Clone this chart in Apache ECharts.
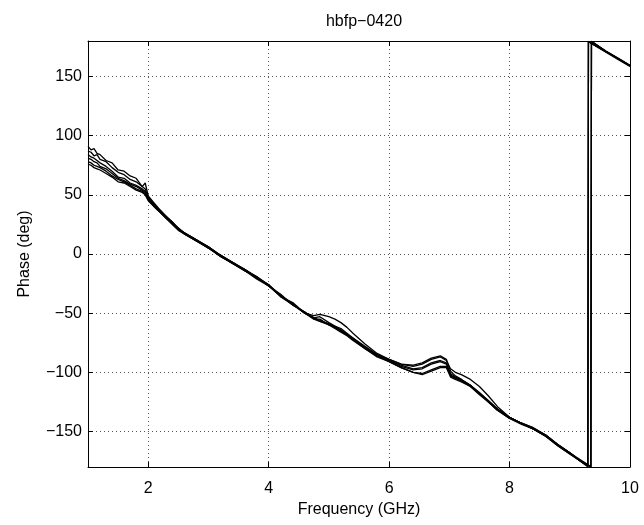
<!DOCTYPE html>
<html>
<head>
<meta charset="utf-8">
<script src="https://cdn.jsdelivr.net/npm/echarts@6/dist/echarts.min.js"></script>
<style>
  html, body { margin: 0; padding: 0; background: #fff; }
  #chart { width: 644px; height: 525px; }
</style>
</head>
<body>
<div id="chart"></div>
<script>
// frequency points (GHz), shared by all traces
const freq = [1.0, 1.05, 1.1, 1.15, 1.2, 1.3, 1.4, 1.5, 1.6, 1.7,
  1.8, 1.9, 1.95, 2.0, 2.1, 2.2, 2.3, 2.4, 2.5, 2.6,
  2.8, 3.0, 3.2, 3.4, 3.6, 3.8, 4.0, 4.2, 4.4, 4.6,
  4.75, 4.85, 5.0, 5.1, 5.2, 5.3, 5.4, 5.6, 5.8, 6.0,
  6.2, 6.4, 6.55, 6.7, 6.85, 6.95, 7.02, 7.1, 7.2, 7.35,
  7.5, 7.65, 7.8, 8.0, 8.2, 8.4, 8.6, 8.8, 9.0, 9.15,
  9.30, 9.31, 9.35, 9.36, 9.6, 9.8, 10.0]

// phase traces (deg)
const phase1 = [91, 88, 89, 85, 84, 79, 77, 71, 70, 66,
  64, 57, 60, 49, 43, 37, 32, 27, 22, 18,
  12, 6, -1, -7, -13, -19, -27, -34, -43, -49,
  -54, -53, -58, -61, -63, -67, -71, -78, -85, -89,
  -93, -94, -92, -88, -86, -89, -99, -103, -106, -111,
  -117, -124, -131, -138, -143, -147, -153, -161, -168, -174,
  -179.5, 179.6, 178.3, 178, 171, 165, 159]
const phase2 = [87, 86, 83, 84, 80, 78, 73, 69, 67, 63,
  61, 57, 55, 48, 42, 36, 31, 27, 21, 18,
  12, 5, -1, -7, -13, -20, -26, -35, -42, -50,
  -52, -51, -53, -55, -58, -62, -67, -76, -84, -89,
  -93, -95, -93, -89, -87, -90, -97, -100, -102, -106,
  -112, -120, -129, -138, -143, -147, -153, -161, -168, -174,
  -179.8, 179.5, 178.2, 177.9, 170.5, 164.5, 158.5]
const phase3 = [84, 82, 81, 79, 77, 74, 70, 65, 64, 60,
  58, 55, 53, 47, 41, 37, 31, 26, 22, 17,
  11, 6, -2, -7, -14, -19, -26, -36, -41, -50,
  -54, -56, -59, -62, -64, -68, -72, -79, -85, -90,
  -94, -97, -96, -92, -90, -92, -101, -104, -106, -111,
  -118, -124, -131, -138, -143, -148, -153, -161, -168, -174,
  -179.3, 179.7, 178.4, 178.1, 171, 165, 159]
const phase4 = [81, 80, 78, 77, 74, 72, 68, 64, 62, 59,
  57, 54, 52, 46, 41, 36, 31, 27, 21, 18,
  12, 6, -1, -8, -13, -20, -27, -35, -43, -49,
  -55, -55, -60, -61, -65, -68, -71, -79, -86, -90,
  -95, -98, -97, -93, -91, -93, -102, -105, -107, -111,
  -118, -125, -132, -138, -143, -148, -154, -161, -168, -173,
  -178, -178.4, -179.8, 179.8, 171.5, 165.5, 159.5]
const phase5 = [78, 77, 75, 74, 73, 70, 66, 63, 61, 58,
  55, 53, 51, 46, 40, 35, 30, 26, 21, 17,
  11, 5, -2, -8, -14, -20, -26, -36, -42, -50,
  -54, -57, -59, -62, -65, -68, -72, -80, -86, -91,
  -96, -100, -101, -98, -95, -95, -103, -105, -107, -112,
  -118, -125, -132, -139, -143, -148, -154, -162, -169, -174,
  -178.5, -178.9, -180, 179.6, 171.3, 165.3, 159.3]
const phase6 = [76, 75, 73, 72, 71, 68, 65, 61, 60, 57,
  54, 52, 50, 45, 40, 35, 30, 25, 20, 17,
  11, 5, -2, -8, -14, -21, -27, -36, -43, -50,
  -55, -57, -60, -63, -66, -69, -73, -80, -87, -91,
  -96, -100, -102, -99, -96, -96, -104, -106, -108, -112,
  -119, -125, -132, -139, -144, -148, -154, -162, -169, -174,
  -178.6, -179, -180, 179.7, 171.2, 165.2, 159.2]

const xTicks = [2, 4, 6, 8, 10]
const yTicks = [-150, -100, -50, 0, 50, 100, 150]

const traces = [phase1, phase2, phase3, phase4, phase5, phase6]
const font = "'Liberation Sans', Arial, Helvetica, sans-serif"
const minus = v => String(v).replace('-', '\u2212')

let chart = echarts.init(document.getElementById('chart'))

const gridLine = {
  show: true,
  lineStyle: { color: '#555', type: [1, 3], width: 1 }
}
const inTick = (vals) => ({
  show: true, inside: true, length: 5, customValues: vals,
  lineStyle: { color: '#000', width: 1 }
})

chart.setOption({
  animation: false,
  title: {
    text: 'hbfp\u22120420',
    left: 359,
    top: 9,
    textAlign: 'center',
    textStyle: { fontFamily: font, fontSize: 16, fontWeight: 'normal', color: '#000' }
  },
  grid: { left: 88, right: 14, top: 41, bottom: 58, containLabel: false },
  xAxis: [
    {
      type: 'value',
      min: 1,
      max: 10,
      name: 'Frequency (GHz)',
      nameLocation: 'middle',
      nameGap: 34,
      nameTextStyle: { fontFamily: font, fontSize: 16, color: '#000' },
      axisLine: { onZero: false, lineStyle: { color: '#000', width: 1 } },
      axisTick: inTick(xTicks),
      axisLabel: {
        customValues: xTicks,
        margin: 14,
        fontFamily: font, fontSize: 16, color: '#000',
        formatter: minus
      },
      splitLine: gridLine
    },
    {
      type: 'value',
      position: 'top',
      min: 1,
      max: 10,
      axisLine: { onZero: false, lineStyle: { color: '#000', width: 1 } },
      axisTick: inTick(xTicks),
      axisLabel: { show: false, customValues: xTicks },
      splitLine: { show: false }
    }
  ],
  yAxis: [
    {
      type: 'value',
      min: -180,
      max: 180,
      name: 'Phase (deg)',
      nameLocation: 'middle',
      nameGap: 55,
      nameTextStyle: { fontFamily: font, fontSize: 16, color: '#000' },
      axisLine: { show: true, onZero: false, lineStyle: { color: '#000', width: 1 } },
      axisTick: inTick(yTicks),
      axisLabel: {
        customValues: yTicks,
        margin: 6,
        fontFamily: font, fontSize: 16, color: '#000',
        formatter: minus
      },
      splitLine: gridLine
    },
    {
      type: 'value',
      position: 'right',
      min: -180,
      max: 180,
      axisLine: { show: true, onZero: false, lineStyle: { color: '#000', width: 1 } },
      axisTick: inTick(yTicks),
      axisLabel: { show: false, customValues: yTicks },
      splitLine: { show: false }
    }
  ],
  series: traces.map((t, k) => ({
    name: 'trace' + (k + 1),
    type: 'line',
    xAxisIndex: 0,
    yAxisIndex: 0,
    showSymbol: false,
    symbol: 'none',
    lineStyle: { color: '#000', width: 1.3 },
    data: freq.map((f, i) => [f, t[i]])
  }))
})
</script>
</body>
</html>
